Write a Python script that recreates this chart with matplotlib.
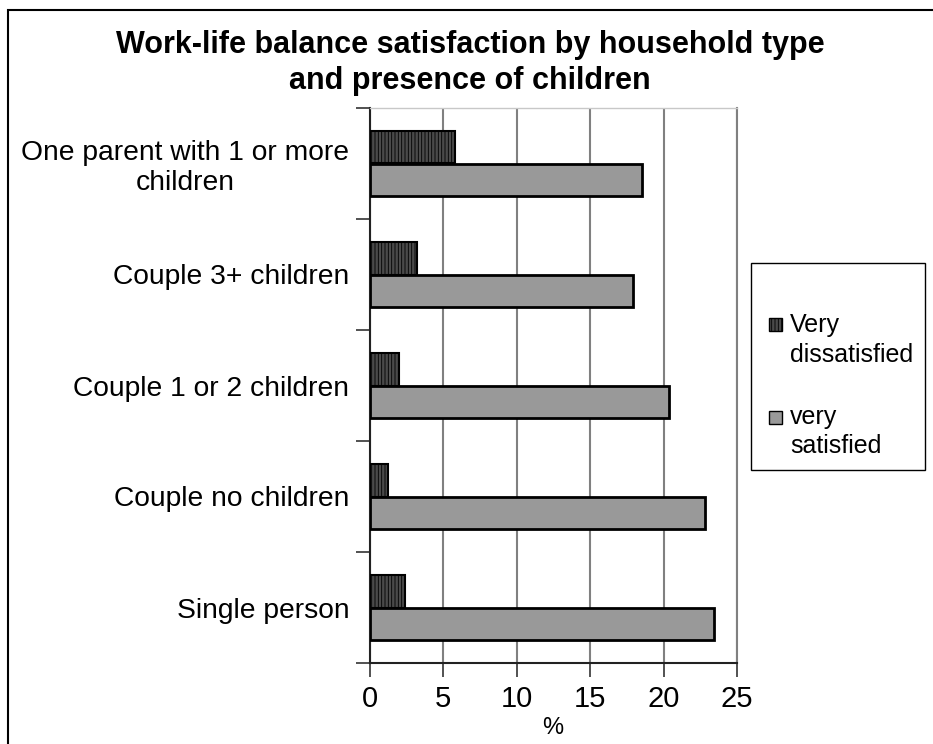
import matplotlib
matplotlib.use("Agg")
import matplotlib.pyplot as plt
import numpy as np
from matplotlib.patches import Rectangle

categories = ["One parent with 1 or more\nchildren", "Couple 3+ children",
              "Couple 1 or 2 children", "Couple no children", "Single person"]
very_dissatisfied = [5.8, 3.2, 2.0, 1.2, 2.4]
very_satisfied = [18.5, 17.9, 20.4, 22.8, 23.4]
series_labels = [("Very", "dissatisfied"), ("very", "satisfied")]
x_ticks = [0, 5, 10, 15, 20, 25]
title = "Work-life balance satisfaction by household type\nand presence of children"
x_label = "%"

plt.rcParams['font.family'] = ['Liberation Sans', 'DejaVu Sans']
plt.rcParams['hatch.linewidth'] = 0.6

W, H = 933, 744
fig = plt.figure(figsize=(W / 100, H / 100), dpi=100)
ax = fig.add_axes([370 / W, 1 - 663 / H, (737 - 370) / W, (663 - 108) / H])

dis_style = dict(facecolor='#4a4a4a', edgecolor='black', hatch='|||||', linewidth=1.5)
sat_style = dict(facecolor='#999999', edgecolor='black', linewidth=2)

y = np.arange(len(categories))
h = 0.29
ax.barh(y - h / 2, very_dissatisfied, height=h, zorder=3, **dis_style)
ax.barh(y + h / 2, very_satisfied, height=h, zorder=3, **sat_style)

ax.set_xlim(0, 25)
ax.set_ylim(len(categories) - 0.5, -0.5)
ax.set_xticks(x_ticks)
ax.set_xticklabels([str(t) for t in x_ticks], fontsize=21)
ax.tick_params(axis='x', length=10, width=1.2, pad=6, direction='out', color='#333333')

ax.set_yticks(np.arange(-0.5, len(categories), 1.0))
ax.set_yticklabels([])
ax.tick_params(axis='y', which='major', length=10, width=1.2, direction='out', color='#333333')
ax.set_yticks(y, minor=True)
ax.set_yticklabels(categories, minor=True, fontsize=20.3, multialignment='center',
                   linespacing=1.2)
ax.tick_params(axis='y', which='minor', length=0, pad=15)

ax.grid(axis='x', color='#808080', linewidth=1.5, zorder=0)
ax.set_axisbelow(True)
for s in ['left', 'bottom']:
    ax.spines[s].set_color('#222222')
    ax.spines[s].set_linewidth(1.5)
ax.spines['right'].set_color('#808080')
ax.spines['right'].set_linewidth(1.5)
ax.spines['top'].set_color('#c8c8c8')
ax.spines['top'].set_linewidth(1.0)

fig.text(553 / W, 1 - 728 / H, x_label, ha='center', va='center', fontsize=17)

fig.text(470 / W, 1 - 63 / H, title, ha='center', va='center',
         fontsize=22, fontweight='bold', linespacing=1.3)

# legend (drawn manually so the key sits beside the first line of each label)
def px(x, yy):
    return (x / W, 1 - yy / H)

fig.patches.append(Rectangle(px(751, 470), 174 / W, 207 / H, transform=fig.transFigure,
                             fill=True, facecolor='white', edgecolor='black', linewidth=1.0))
key_rows = [(318, 332, 362), (411, 424, 453)]
styles = [dis_style, sat_style]
for (ky, b1, b2), (l1, l2), st in zip(key_rows, series_labels, styles):
    st2 = dict(st)
    st2['linewidth'] = 1.0
    fig.patches.append(Rectangle(px(769, ky + 13), 13 / W, 13 / H,
                                 transform=fig.transFigure, **st2))
    fig.text(790 / W, 1 - b1 / H, l1, ha='left', va='baseline', fontsize=18)
    fig.text(790 / W, 1 - b2 / H, l2, ha='left', va='baseline', fontsize=18)

fig.patches.append(Rectangle((8 / W, -0.01), 1.02, 1 - 10 / H + 0.01,
                             transform=fig.transFigure, fill=False,
                             edgecolor='black', linewidth=1.5))

fig.savefig("out.png", dpi=100)
